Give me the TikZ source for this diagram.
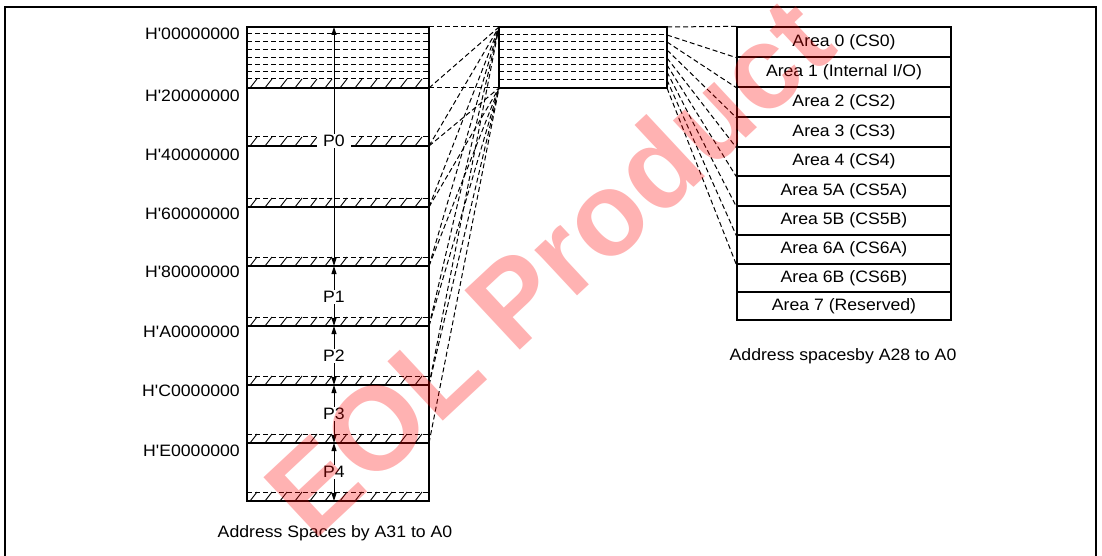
\documentclass[tikz,border=0pt]{standalone}
\usepackage{fontspec}
\setmainfont{Liberation Sans}[FakeStretch=1.07, Ligatures=TeXOff]
\newfontfamily\wmfont{Liberation Sans}
\usetikzlibrary{arrows.meta}
\begin{document}
\begin{tikzpicture}[x=1pt,y=-1pt,
  outline/.style={line width=2.6pt},
  dline/.style={line width=1pt, dash pattern=on 5pt off 3pt},
  hatchline/.style={line width=0.9pt},
  lbl/.style={font=\fontsize{16.5}{19}\selectfont, inner sep=0pt},
  plbl/.style={font=\fontsize{16.5}{19}\selectfont, fill=white, inner xsep=2pt, inner ysep=1pt},
  darr/.style={line width=0.9pt, {Triangle[length=8pt,width=5pt]}-{Triangle[length=8pt,width=5pt]}},
  row/.style={draw, line width=1.3pt, minimum width=214pt, inner sep=0pt, font=\fontsize{16.5}{19}\selectfont},
]
\useasboundingbox (0,0) rectangle (1102,556);
% outer frame
\draw[line width=2.2pt] (5,562) -- (5,7) -- (1096,7) -- (1096,562);

% ---------- left column ----------
\foreach \y [count=\k from 0] in {27,88,146,207,266,326,385,443,501}
  \coordinate (L\k) at (429,\y);
% top segment dashed lines
\foreach \y in {34,42,50,58,65,72}
  \draw[dline] (247,\y) -- (429,\y);
% hatch bands
\foreach \y in {88,146,207,266,326,385,443,501}{
  \draw[dline] (247,\y-9) -- (429,\y-9);
  \foreach \x in {250,265,...,415}
    \draw[hatchline] (\x,\y) -- (\x+7,\y-9);
}
% boundaries and outline
\foreach \y in {88,146,207,266,326,385,443}
  \draw[outline] (247,\y) -- (429,\y);
\draw[outline] (247,27) rectangle (429,501);

% address labels
\foreach \y/\t in {34/H'00000000,96/H'20000000,155/H'40000000,214/H'60000000,272/H'80000000,332/H'A0000000,391/H'C0000000,451/H'E0000000}
  \node[lbl, anchor=east] at (240,\y) {\t};

% P arrows
\draw[darr] (334,27) -- (334,266);
\draw[darr] (334,266) -- (334,326);
\draw[darr] (334,326) -- (334,385);
\draw[darr] (334,385) -- (334,443);
\draw[darr] (334,443) -- (334,501);
\node[plbl, inner xsep=6pt] (p0) at (334,141) {P0};
\node[plbl] (p1) at (334,297) {P1};
\node[plbl] (p2) at (334,356) {P2};
\node[plbl] (p3) at (334,414) {P3};
\node[plbl] (p4) at (334,472) {P4};

% ---------- middle box ----------
\coordinate (Mtop) at (499,27);
\coordinate (Mbot) at (499,88);
\foreach \y in {35,42,50,58,65,72,80}
  \draw[dline] (499,\y) -- (667,\y);
\foreach \y [count=\k from 0] in {35,42,50,58,65,72,80,88}
  \coordinate (R\k) at (667,\y);
\coordinate (MRtop) at (667,27);
\draw[outline] (499,27) rectangle (667,88);

% ---------- right table ----------
\foreach \t/\c/\h [count=\i from 0] in {
  {Area 0 (CS0)}/42/30,
  {Area 1 (Internal I/O)}/72/30,
  {Area 2 (CS2)}/102/30,
  {Area 3 (CS3)}/132/30,
  {Area 4 (CS4)}/161.5/29,
  {Area 5A (CS5A)}/191/30,
  {Area 5B (CS5B)}/220.5/29,
  {Area 6A (CS6A)}/249.5/29,
  {Area 6B (CS6B)}/278/28,
  {Area 7 (Reserved)}/306/28}
  \node[row, minimum height=\h pt] (r\i) at (844,\c) {\t};
\draw[outline] (737,27) rectangle (951,320);

% ---------- connectors ----------
\draw[dline] (L0) -- (Mtop);
\draw[dline] (L1) -- (Mbot);
\foreach \k in {1,...,6}
  \draw[dline] (L\k) -- (Mtop);
\foreach \k in {2,...,7}
  \draw[dline] (L\k) -- (Mbot);
\draw[dline] (MRtop) -- (r0.north west);
\foreach \k in {0,...,7}
  \draw[dline] (R\k) -- (r\k.south west);

% captions
\node[lbl] (capL) at (335,533) {Address Spaces by A31 to A0};
\node[lbl] (capR) at (843,356) {Address spacesby A28 to A0};

% watermark
\node[rotate=43, text=red, opacity=0.3, font=\wmfont\bfseries\fontsize{118}{118}\selectfont] (wm) at (548,266) {EOL Product};
\end{tikzpicture}
\end{document}
